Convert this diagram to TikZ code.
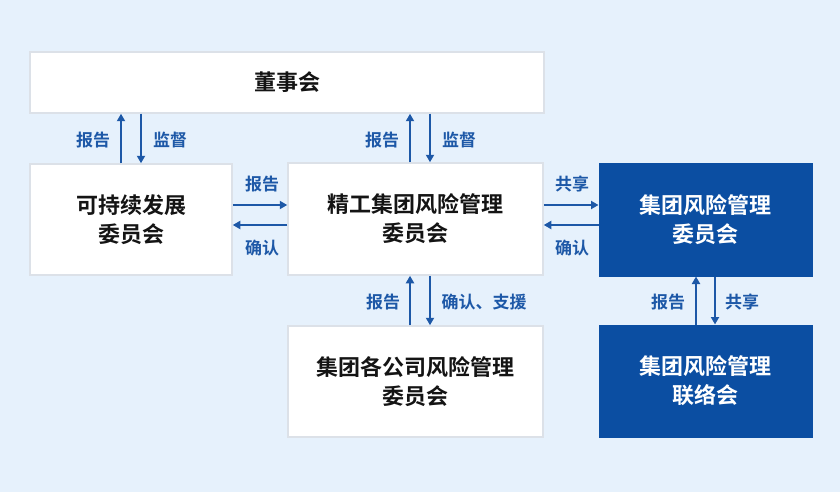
\documentclass[tikz,border=0pt]{standalone}
\usepackage{fontspec}
\setmainfont{Noto Sans CJK SC}[BoldFont={Noto Sans CJK SC Bold}]
\newfontfamily\cjk{Noto Sans CJK SC Bold}
\usetikzlibrary{arrows.meta}
\definecolor{bgc}{HTML}{E6F1FC}
\definecolor{bluebox}{HTML}{0B4EA2}
\definecolor{arrc}{HTML}{1D58A7}
\definecolor{edgec}{HTML}{DCE1E8}
\begin{document}
\begin{tikzpicture}[x=1pt,y=-1pt,
  wbox/.style={draw=edgec,line width=1.5pt,fill=white,inner sep=0pt,align=center,
    font=\cjk\fontsize{22}{29}\selectfont,text=black!92},
  bbox/.style={draw=bluebox,line width=1pt,fill=bluebox,inner sep=0pt,align=center,
    font=\cjk\fontsize{22}{29}\selectfont,text=white},
  arr/.style={draw=arrc,line width=2.2pt,-{Triangle[length=7.5pt,width=8pt]}},
  lbl/.style={font=\cjk\fontsize{17}{20}\selectfont,text=arrc,inner sep=0pt}]
\fill[bgc] (0,0) rectangle (840,492);
\useasboundingbox (0,0) rectangle (840,492);
% boxes
\node[wbox,minimum width=514pt,minimum height=61pt] (board) at (287,82.5) {董事会};
\node[wbox,minimum width=202pt,minimum height=111pt] (sust) at (131,219.5) {可持续发展\\委员会};
\node[wbox,minimum width=255pt,minimum height=112pt] (mid) at (415.5,219) {精工集团风险管理\\委员会};
\node[bbox,minimum width=213pt,minimum height=113pt] (grc) at (705.5,219.5) {集团风险管理\\委员会};
\node[bbox,minimum width=213pt,minimum height=112pt] (liaison) at (705.5,381) {集团风险管理\\联络会};
\node[wbox,minimum width=255pt,minimum height=111pt] (sub) at (415.5,381.5) {集团各公司风险管理\\委员会};
% left vertical
\draw[arr] ([xshift=-10pt]sust.north) -- ([xshift=-10pt]sust.north |- board.south);
\draw[arr] ([xshift=10pt]sust.north |- board.south) -- ([xshift=10pt]sust.north);
\node[lbl] (l1) at (93,140) {报告};
\node[lbl] (l2) at (170,140) {监督};
% middle top
\draw[arr] ([xshift=-5.5pt]mid.north) -- ([xshift=-5.5pt]mid.north |- board.south);
\draw[arr] ([xshift=14.5pt]mid.north |- board.south) -- ([xshift=14.5pt]mid.north);
\node[lbl] (l3) at (382,140) {报告};
\node[lbl] (l4) at (459,140) {监督};
% left horizontal
\draw[arr] ([yshift=14.5pt]sust.east) -- ([yshift=14.5pt]sust.east -| mid.west);
\draw[arr] ([yshift=-5.5pt]sust.east -| mid.west) -- ([yshift=-5.5pt]sust.east);
\node[lbl] (l5) at (262,184) {报告};
\node[lbl] (l6) at (262,248) {确认};
% right horizontal
\draw[arr] ([yshift=14pt]mid.east) -- ([yshift=14pt]mid.east -| grc.west);
\draw[arr] ([yshift=-6pt]mid.east -| grc.west) -- ([yshift=-6pt]mid.east);
\node[lbl] (l7) at (572,184) {共享};
\node[lbl] (l8) at (572,248) {确认};
% right vertical
\draw[arr] ([xshift=-9.5pt]liaison.north) -- ([xshift=-9.5pt]liaison.north |- grc.south);
\draw[arr] ([xshift=9.5pt]liaison.north |- grc.south) -- ([xshift=9.5pt]liaison.north);
\node[lbl] (l9) at (668,302) {报告};
\node[lbl] (l10) at (742,302) {共享};
% middle bottom
\draw[arr] ([xshift=-5.5pt]sub.north) -- ([xshift=-5.5pt]sub.north |- mid.south);
\draw[arr] ([xshift=14.5pt]sub.north |- mid.south) -- ([xshift=14.5pt]sub.north);
\node[lbl] (l11) at (383,302) {报告};
\node[lbl] (l12) at (484,302) {确认、支援};
\end{tikzpicture}
\end{document}
